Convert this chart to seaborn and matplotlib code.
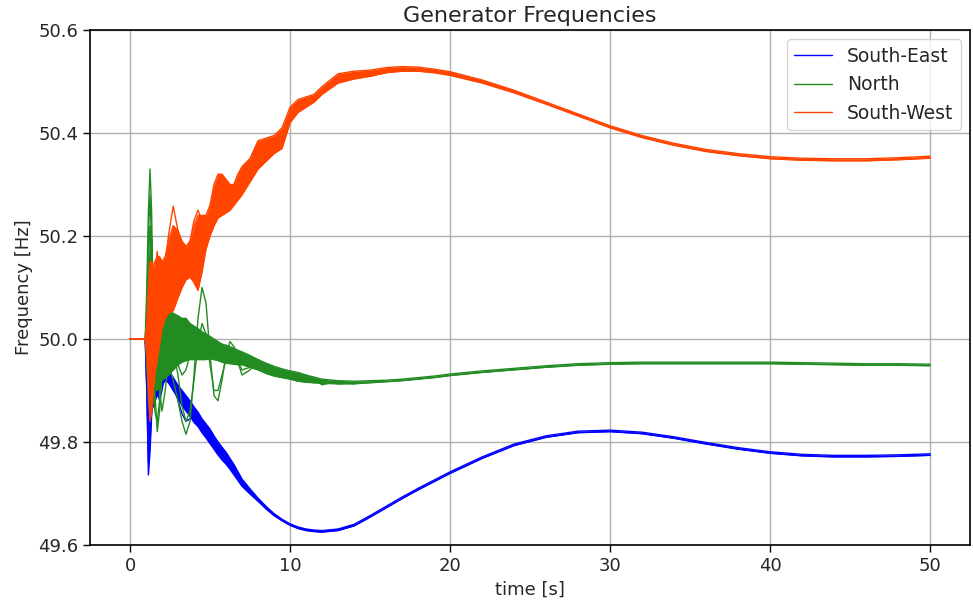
import pandas as pd
import seaborn as sns
import matplotlib.pyplot as plt
from matplotlib.lines import Line2D

# time grids [s]: dense while the generators swing, coarse for the slow recovery
T_EARLY = [0.0, 0.95, 1.05, 1.15, 1.25, 1.35, 1.45, 1.55, 1.7, 1.85,
           2.0, 2.2, 2.4, 2.7, 3.0, 3.25, 3.5, 3.75, 4.0, 4.25,
           4.5, 4.75, 5.0, 5.25, 5.5, 5.75, 6.0, 6.25, 6.5, 6.75,
           7.0, 7.5, 8.0, 8.5, 9.0, 9.5, 10.0, 10.5, 11.0, 11.5,
           12.0, 13.0, 14.0]
T_LATE = [15, 16, 17, 18, 19, 20, 22, 24, 26, 28, 30, 32, 34, 36, 38, 40, 42, 44, 46, 48, 50]

REGIONS = ["South-East", "North", "South-West"]
PALETTE = {"South-East": "#0000ff", "North": "#228b22", "South-West": "#ff4500"}

# upper / lower edge of the bundle of generator traces, per region [Hz]
SW_HI_EARLY = [50.0, 50.0, 50.03, 50.10, 50.15, 50.15, 50.14, 50.15, 50.16, 50.16,
               50.15, 50.16, 50.19, 50.22, 50.21, 50.19, 50.18, 50.19, 50.22, 50.24,
               50.24, 50.24, 50.26, 50.30, 50.32, 50.32, 50.31, 50.30, 50.30, 50.32,
               50.335, 50.35, 50.385, 50.39, 50.395, 50.41, 50.45, 50.465, 50.47, 50.475,
               50.49, 50.515, 50.52]
SW_LO_EARLY = [50.0, 50.0, 49.97, 49.90, 49.84, 49.86, 49.90, 49.93, 49.96, 49.99,
               50.02, 50.04, 50.05, 50.055, 50.08, 50.10, 50.115, 50.12, 50.11, 50.095,
               50.13, 50.175, 50.20, 50.22, 50.235, 50.24, 50.245, 50.25, 50.26, 50.27,
               50.28, 50.305, 50.33, 50.345, 50.36, 50.37, 50.42, 50.44, 50.45, 50.46,
               50.475, 50.497, 50.505]
SW_HI_LATE = [50.522, 50.527, 50.529, 50.528, 50.524, 50.519, 50.503, 50.483, 50.46, 50.437,
              50.414, 50.395, 50.38, 50.368, 50.36, 50.354, 50.351, 50.35, 50.35, 50.352, 50.355]
SW_LO_LATE = [50.510, 50.517, 50.52, 50.52, 50.517, 50.512, 50.497, 50.478, 50.456, 50.433,
              50.41, 50.391, 50.376, 50.364, 50.356, 50.35, 50.347, 50.346, 50.346, 50.348, 50.351]

N_HI_EARLY = [50.0, 50.0, 50.05, 50.15, 50.22, 50.20, 50.10, 50.06, 50.05, 50.06,
              50.06, 50.06, 50.055, 50.05, 50.045, 50.04, 50.04, 50.03, 50.025, 50.02,
              50.014, 50.01, 50.005, 50.0, 49.995, 49.99, 49.988, 49.985, 49.982, 49.978,
              49.975, 49.968, 49.96, 49.953, 49.947, 49.942, 49.938, 49.935, 49.93, 49.926,
              49.922, 49.919, 49.918]
N_LO_EARLY = [50.0, 50.0, 49.95, 49.88, 49.85, 49.86, 49.88, 49.90, 49.90, 49.91,
              49.92, 49.925, 49.93, 49.94, 49.95, 49.955, 49.958, 49.96, 49.96, 49.96,
              49.96, 49.96, 49.962, 49.96, 49.958, 49.955, 49.953, 49.952, 49.951, 49.95,
              49.95, 49.945, 49.94, 49.933, 49.928, 49.925, 49.922, 49.918, 49.916, 49.915,
              49.914, 49.913, 49.913]
N_HI_LATE = [49.919, 49.92, 49.922, 49.925, 49.928, 49.932, 49.938, 49.943, 49.948, 49.952,
             49.954, 49.955, 49.955, 49.955, 49.955, 49.955, 49.954, 49.953, 49.952, 49.952, 49.951]
N_LO_LATE = [49.915, 49.917, 49.919, 49.922, 49.925, 49.929, 49.935, 49.94, 49.945, 49.949,
             49.951, 49.952, 49.952, 49.952, 49.952, 49.952, 49.951, 49.95, 49.949, 49.949, 49.948]

SE_HI_EARLY = [50.0, 50.0, 49.96, 49.90, 49.88, 49.90, 49.92, 49.93, 49.94, 49.945,
               49.95, 49.952, 49.94, 49.925, 49.91, 49.90, 49.89, 49.88, 49.868, 49.858,
               49.845, 49.835, 49.825, 49.812, 49.80, 49.79, 49.78, 49.768, 49.756, 49.742,
               49.728, 49.709, 49.691, 49.675, 49.661, 49.65, 49.641, 49.635, 49.631, 49.629,
               49.628, 49.631, 49.64]
SE_LO_EARLY = [50.0, 50.0, 49.90, 49.76, 49.80, 49.86, 49.87, 49.88, 49.89, 49.90,
               49.91, 49.92, 49.915, 49.90, 49.885, 49.87, 49.86, 49.85, 49.838, 49.83,
               49.818, 49.808, 49.797, 49.786, 49.775, 49.765, 49.757, 49.747, 49.736, 49.725,
               49.714, 49.699, 49.685, 49.67, 49.657, 49.647, 49.638, 49.632, 49.628, 49.626,
               49.625, 49.628, 49.637]
SE_HI_LATE = [49.657, 49.675, 49.693, 49.71, 49.726, 49.742, 49.771, 49.796, 49.812, 49.821,
              49.823, 49.819, 49.81, 49.799, 49.789, 49.781, 49.776, 49.774, 49.774, 49.775, 49.777]
SE_LO_LATE = [49.654, 49.672, 49.69, 49.707, 49.723, 49.739, 49.768, 49.793, 49.809, 49.818,
              49.82, 49.816, 49.807, 49.796, 49.786, 49.778, 49.773, 49.771, 49.771, 49.772, 49.774]

# single generators that swing outside the bundle (early part only)
SW_OUT_A = [50.0, 50.0, 50.02, 50.08, 50.15, 50.10, 50.05, 50.12, 50.17, 50.12,
            50.10, 50.14, 50.20, 50.258, 50.21, 50.17, 50.16, 50.19, 50.23, 50.25,
            50.23, 50.22, 50.25, 50.29, 50.31, 50.30, 50.29, 50.29, 50.30, 50.32,
            50.33, 50.35, 50.38, 50.385, 50.39, 50.40, 50.44, 50.46, 50.465, 50.47,
            50.485, 50.51, 50.515]
SW_OUT_B = [50.0, 50.0, 49.98, 49.92, 49.85, 49.90, 49.97, 50.02, 50.0, 50.03,
            50.06, 50.05, 50.07, 50.10, 50.12, 50.10, 50.12, 50.14, 50.11, 50.095,
            50.14, 50.19, 50.22, 50.23, 50.24, 50.245, 50.25, 50.26, 50.265, 50.275,
            50.285, 50.31, 50.335, 50.35, 50.365, 50.375, 50.425, 50.445, 50.455, 50.465,
            50.478, 50.5, 50.508]
N_OUT_A = [50.0, 50.0, 50.10, 50.25, 50.33, 50.25, 50.05, 49.90, 49.82, 49.86,
           49.93, 49.96, 49.95, 49.92, 49.88, 49.84, 49.815, 49.84, 49.93, 50.04,
           50.10, 50.07, 49.97, 49.89, 49.88, 49.92, 49.97, 49.995, 49.985, 49.955,
           49.93, 49.94, 49.96, 49.94, 49.93, 49.935, 49.925, 49.918, 49.93, 49.922,
           49.911, 49.918, 49.913]
N_OUT_B = [50.0, 50.0, 49.98, 49.90, 49.87, 49.93, 50.02, 50.05, 49.98, 49.90,
           49.86, 49.90, 49.96, 49.98, 49.93, 49.87, 49.84, 49.86, 49.92, 49.99,
           50.03, 50.01, 49.95, 49.90, 49.90, 49.93, 49.96, 49.975, 49.97, 49.955,
           49.94, 49.945, 49.955, 49.94, 49.933, 49.93, 49.935, 49.92, 49.928, 49.915,
           49.92, 49.913, 49.915]
N_OUT_C = [50.0, 50.0, 50.06, 50.20, 50.28, 50.18, 50.0, 49.86, 49.84, 49.88,
           49.95, 50.0, 50.02, 49.99, 49.95, 49.93, 49.94, 49.97, 50.0, 50.02,
           50.01, 49.99, 49.97, 49.96, 49.965, 49.975, 49.98, 49.975, 49.965, 49.96,
           49.962, 49.958, 49.95, 49.945, 49.94, 49.935, 49.93, 49.926, 49.922, 49.92,
           49.918, 49.916, 49.915]
SE_OUT_A = [50.0, 50.0, 49.90, 49.736, 49.78, 49.85, 49.90, 49.92, 49.90, 49.88,
            49.90, 49.935, 49.935, 49.91, 49.88, 49.855, 49.84, 49.845, 49.85, 49.845,
            49.83, 49.815, 49.80, 49.79, 49.78, 49.77, 49.76, 49.75, 49.74, 49.73,
            49.72, 49.703, 49.688, 49.672, 49.659, 49.648, 49.64, 49.633, 49.63, 49.627,
            49.626, 49.63, 49.639]

X_TICKS = [0, 10, 20, 30, 40, 50]
Y_TICKS = [49.6, 49.8, 50.0, 50.2, 50.4, 50.6]


def build_frame(region, hi, lo, extras):
    t_full = T_EARLY + T_LATE
    parts = [
        pd.DataFrame({"time": t_full, "freq": hi, "trace": "hi"}),
        pd.DataFrame({"time": t_full, "freq": lo, "trace": "lo"}),
    ]
    for i, vals in enumerate(extras):
        parts.append(pd.DataFrame({"time": T_EARLY, "freq": vals, "trace": f"gen{i}"}))
    df = pd.concat(parts, ignore_index=True)
    df["region"] = region
    return df


bands = {
    "South-West": (SW_HI_EARLY + SW_HI_LATE, SW_LO_EARLY + SW_LO_LATE, [SW_OUT_A, SW_OUT_B]),
    "North": (N_HI_EARLY + N_HI_LATE, N_LO_EARLY + N_LO_LATE, [N_OUT_A, N_OUT_B, N_OUT_C]),
    "South-East": (SE_HI_EARLY + SE_HI_LATE, SE_LO_EARLY + SE_LO_LATE, [SE_OUT_A]),
}

sns.set_style("ticks")
plt.rcParams['font.family'] = ['DejaVu Sans']

fig, ax = plt.subplots(figsize=(9.73, 6.0), dpi=100)
fig.subplots_adjust(left=0.0925, right=0.997, top=0.95, bottom=0.0917)
ax.set_axisbelow(True)
ax.grid(True, color="#b0b0b0", lw=1)

# blue first, then green, orange on top (orange hides the others before the fault)
for region in ["South-East", "North", "South-West"]:
    hi, lo, extras = bands[region]
    ax.fill_between(T_EARLY + T_LATE, lo, hi, color=PALETTE[region], lw=0, zorder=2)
    sns.lineplot(
        data=build_frame(region, hi, lo, extras),
        x="time", y="freq",
        hue="region", units="trace", estimator=None,
        palette=PALETTE, lw=1, sort=False,
        legend=False, ax=ax
    )

handles = [Line2D([], [], color=PALETTE[r], lw=1) for r in REGIONS]
ax.legend(handles, REGIONS, loc="upper right", fontsize=13.5, framealpha=0.8,
          edgecolor="0.8", fancybox=True)

ax.set_xlim(-2.5, 52.5)
ax.set_ylim(49.6, 50.6)
ax.set_xticks(X_TICKS, [str(v) for v in X_TICKS], fontsize=13)
ax.set_yticks(Y_TICKS, [f"{v:.1f}" for v in Y_TICKS], fontsize=13)
ax.tick_params(length=5, width=1, color="black")
for s in ax.spines.values():
    s.set_color("black")
    s.set_linewidth(1.2)

ax.set_title("Generator Frequencies", fontsize=16)
ax.set_xlabel("time [s]", fontsize=13)
ax.set_ylabel("Frequency [Hz]", fontsize=13)

fig.savefig("out.png", dpi=100)
